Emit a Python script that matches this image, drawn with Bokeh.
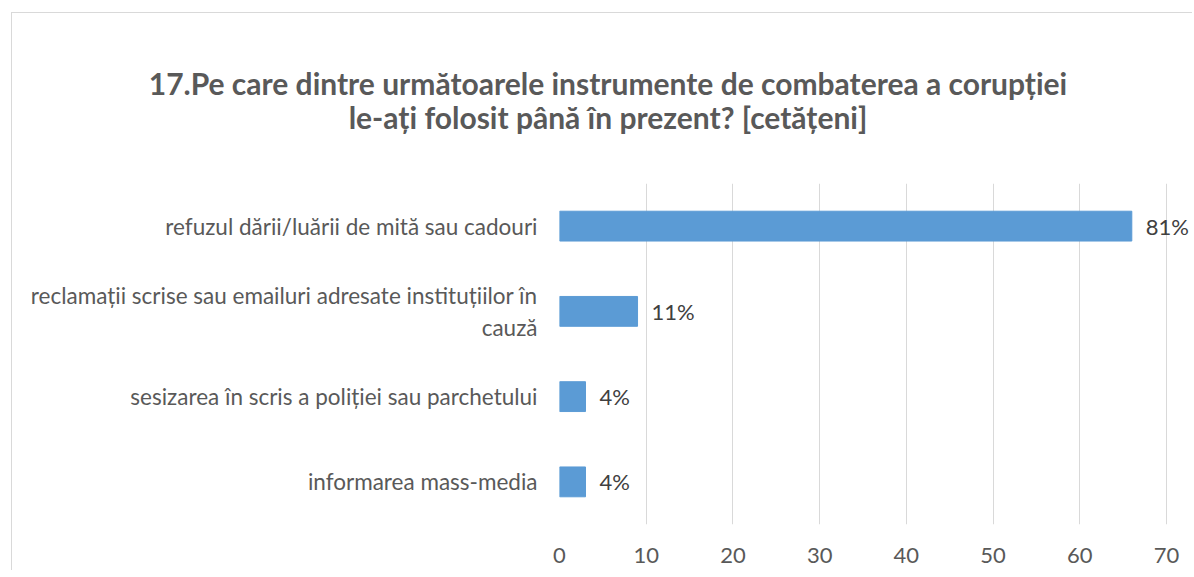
from bokeh.plotting import figure
from bokeh.models import ColumnDataSource, FixedTicker, Div
from bokeh.layouts import column
from bokeh.core.properties import value
from bokeh.embed import file_html
from bokeh.resources import INLINE

categories = [
    "refuzul dării/luării de mită sau cadouri",
    "reclamații scrise sau emailuri adresate instituțiilor în\ncauză",
    "sesizarea în scris a poliției sau parchetului",
    "informarea mass-media",
]
counts = [66, 9, 3, 3]
pct_labels = ["81%", "11%", "4%", "4%"]
x_ticks = [0, 10, 20, 30, 40, 50, 60, 70]
title_lines = [
    "17.Pe care dintre următoarele instrumente de combaterea a corupției",
    "le-ați folosit până în prezent? [cetățeni]",
]

FONT = "Lato"
GRAY = "#595959"

src = ColumnDataSource(dict(cat=categories, n=counts, lab=pct_labels))

p = figure(
    y_range=list(reversed(categories)),
    x_range=(0, 73),
    width=1180, height=387,
    output_backend="svg", toolbar_location=None,
    min_border_left=547, min_border_right=0,
    min_border_top=0, min_border_bottom=46,
    margin=0,
)
p.outline_line_color = None
p.background_fill_color = "white"
p.border_fill_color = "white"

p.hbar(y="cat", right="n", left=0, height=0.35, source=src,
       fill_color="#5b9bd5", line_color="#5b9bd5")
p.text(x="n", y="cat", text="lab", source=src, x_offset=14,
       text_baseline="middle", text_align="left",
       text_font=value(FONT), text_font_size="22px", text_color="#404040")

p.xaxis.ticker = FixedTicker(ticks=x_ticks)
p.xaxis.axis_line_color = None
p.xaxis.major_tick_line_color = None
p.xaxis.minor_tick_line_color = None
p.xaxis.major_tick_out = 0
p.xaxis.major_label_text_font = FONT
p.xaxis.major_label_text_font_size = "22px"
p.xaxis.major_label_text_color = GRAY
p.xaxis.major_label_standoff = 23

p.yaxis.axis_line_color = None
p.yaxis.major_tick_line_color = None
p.yaxis.major_tick_out = 0
p.yaxis.major_label_text_font = FONT
p.yaxis.major_label_text_font_size = "22.5px"
p.yaxis.major_label_text_color = GRAY
p.yaxis.major_label_standoff = 22

p.xgrid.grid_line_color = "#d9d9d9"
p.ygrid.grid_line_color = None

title_html = (
    '<div style="box-sizing:border-box;width:1175px;padding-left:17px;padding-top:53px;'
    'text-align:center;font-family:Lato;font-weight:bold;font-size:30px;'
    'line-height:34px;color:#595959;white-space:nowrap;">'
    + "<br>".join(title_lines) + "</div>"
)
title_div = Div(text=title_html, width=1180, height=170, margin=0)

layout = column(title_div, p, margin=(12, 0, 0, 11), spacing=0,
                styles={"border-top": "1px solid #d9d9d9", "border-left": "1px solid #d9d9d9",
                        "background-color": "white"})

open("out.html", "w").write(file_html(layout, INLINE))
